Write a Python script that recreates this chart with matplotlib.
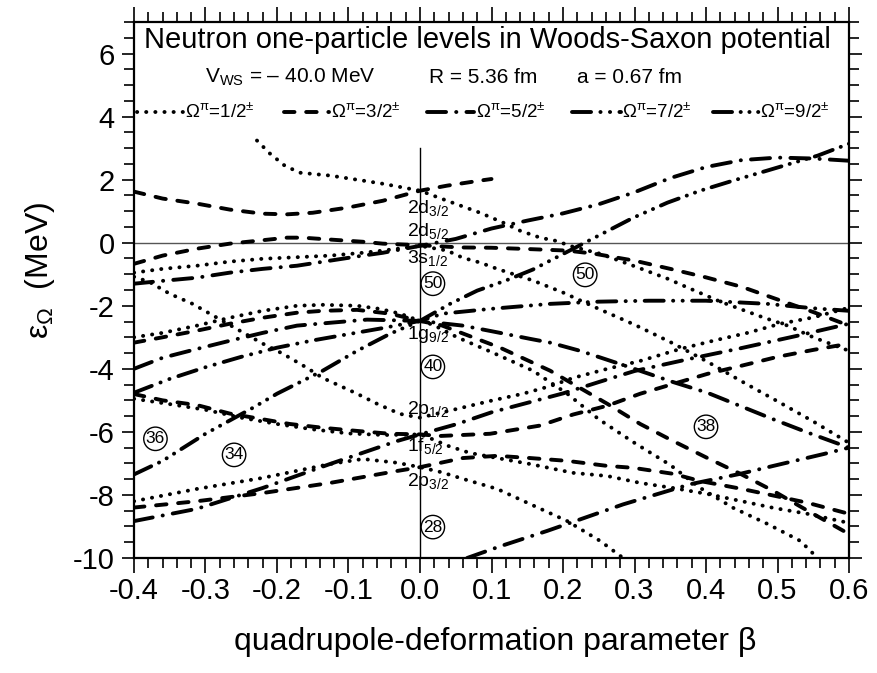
import matplotlib
matplotlib.use("Agg")
import matplotlib.pyplot as plt
from matplotlib.ticker import MultipleLocator
from matplotlib.lines import Line2D

plt.rcParams['font.family'] = 'Liberation Sans'
plt.rcParams['mathtext.fontset'] = 'custom'
plt.rcParams['mathtext.rm'] = 'Liberation Sans'
plt.rcParams['mathtext.it'] = 'Liberation Sans:italic'
plt.rcParams['axes.unicode_minus'] = False

# Nilsson-type levels: (beta, energy in MeV) per curve
omega_1_2 = [
    ([-0.228, -0.21, -0.189, -0.168, -0.126, -0.08, -0.052, 0.0, 0.038, 0.084, 0.12, 0.14, 0.168, 0.19,
      0.214, 0.252, 0.298, 0.346, 0.374, 0.42, 0.48, 0.514, 0.55, 0.6],
     [3.24, 2.83, 2.44, 2.22, 2.13, 1.97, 1.87, 1.65, 1.33, 0.95, 0.6, 0.38, 0.16, 0.06,
      -0.13, -0.35, -0.73, -1.14, -1.42, -1.87, -2.37, -2.63, -3.0, -3.43]),
    ([-0.4, -0.36, -0.312, -0.266, -0.22, -0.172, -0.126, -0.08, -0.052, 0.0, 0.038, 0.06, 0.084, 0.108,
      0.158, 0.2, 0.25, 0.3, 0.35, 0.4, 0.45, 0.5, 0.55, 0.6],
     [-0.95, -0.83, -0.73, -0.6, -0.51, -0.46, -0.41, -0.32, -0.25, -0.1, -0.25, -0.48, -0.63, -0.83,
      -1.2, -1.58, -2.1, -2.6, -3.15, -3.75, -4.4, -5.03, -5.67, -6.35]),
    ([-0.4, -0.378, -0.35, -0.318, -0.294, -0.252, -0.22, -0.192, -0.158, -0.136, -0.088, -0.06, -0.028,
      0.0, 0.052, 0.098, 0.144, 0.182, 0.214, 0.262, 0.308, 0.364, 0.41, 0.458, 0.504, 0.55, 0.6],
     [-1.08, -1.25, -1.62, -1.94, -2.25, -2.79, -3.2, -3.52, -3.97, -4.29, -4.79, -5.11, -5.43,
      -5.55, -5.27, -5.02, -4.79, -4.55, -4.29, -4.0, -3.75, -3.37, -3.11, -2.86, -2.57, -2.37, -2.06]),
    ([-0.4, -0.36, -0.312, -0.266, -0.22, -0.172, -0.136, -0.088, -0.056, -0.028, 0.0, 0.018, 0.052,
      0.098, 0.158, 0.206, 0.25, 0.3, 0.35, 0.392, 0.438, 0.486, 0.532, 0.556],
     [-3.0, -2.86, -2.63, -2.38, -2.16, -2.0, -1.97, -2.0, -2.1, -2.25, -2.48, -2.6, -3.0,
      -3.45, -4.06, -4.79, -5.6, -6.35, -7.05, -7.78, -8.41, -8.92, -9.46, -10.0]),
    ([-0.4, -0.35, -0.3, -0.25, -0.2, -0.15, -0.1, -0.05, 0.0, 0.014, 0.04, 0.07, 0.108, 0.154, 0.214,
      0.262, 0.308, 0.354, 0.402, 0.448, 0.494, 0.542, 0.6],
     [-4.95, -5.12, -5.3, -5.55, -5.75, -5.92, -6.05, -6.1, -6.08, -6.2, -6.45, -6.67, -6.83, -7.02, -7.3,
      -7.4, -7.62, -7.78, -7.97, -8.19, -8.41, -8.6, -8.89]),
    ([-0.4, -0.312, -0.22, -0.126, -0.08, -0.032, 0.0, 0.03, 0.06, 0.108, 0.154, 0.206, 0.252, 0.284],
     [-8.2, -7.81, -7.46, -7.02, -6.86, -6.98, -7.12, -7.28, -7.49, -7.81, -8.29, -8.83, -9.46, -10.0]),
]

omega_3_2 = [
    ([-0.4, -0.36, -0.312, -0.266, -0.22, -0.186, -0.15, -0.102, -0.052, 0.0, 0.038, 0.084, 0.1],
     [1.62, 1.4, 1.24, 1.05, 0.92, 0.9, 0.95, 1.11, 1.33, 1.65, 1.81, 1.97, 2.02]),
    ([-0.4, -0.36, -0.312, -0.266, -0.228, -0.186, -0.164, -0.126, -0.08, -0.052, 0.0, 0.056, 0.1, 0.15,
      0.206, 0.244, 0.3, 0.35, 0.4, 0.45, 0.5, 0.55, 0.6],
     [-0.67, -0.41, -0.19, -0.03, 0.06, 0.16, 0.16, 0.1, 0.03, -0.03, -0.08, -0.15, -0.16, -0.2,
      -0.25, -0.35, -0.57, -0.83, -1.1, -1.4, -1.8, -2.2, -2.63]),
    ([-0.4, -0.36, -0.312, -0.266, -0.22, -0.172, -0.136, -0.088, -0.042, 0.0, 0.03, 0.06, 0.112, 0.182,
      0.214, 0.262, 0.308, 0.354, 0.402, 0.448, 0.494, 0.542, 0.6],
     [-3.17, -3.0, -2.79, -2.57, -2.38, -2.22, -2.16, -2.13, -2.25, -2.48, -2.62, -2.88, -3.33, -4.06,
      -4.48, -5.11, -5.75, -6.29, -6.83, -7.33, -7.87, -8.5, -9.24]),
    ([-0.4, -0.36, -0.312, -0.266, -0.22, -0.182, -0.136, -0.088, -0.042, 0.0, 0.028, 0.098, 0.168,
      0.214, 0.262, 0.308, 0.354, 0.402, 0.45, 0.5, 0.55, 0.6],
     [-4.8, -5.0, -5.15, -5.42, -5.6, -5.75, -5.87, -5.97, -6.06, -6.08, -6.13, -6.06, -5.8,
      -5.45, -5.17, -4.79, -4.48, -4.16, -3.9, -3.62, -3.4, -3.2]),
    ([-0.4, -0.312, -0.22, -0.126, -0.032, 0.0, 0.06, 0.108, 0.154, 0.206, 0.262, 0.298, 0.354, 0.392,
      0.448, 0.486, 0.542, 0.6],
     [-8.4, -8.2, -7.94, -7.62, -7.24, -7.12, -6.83, -6.76, -6.83, -6.92, -7.08, -7.14, -7.33, -7.56,
      -7.8, -7.98, -8.25, -8.6]),
]

omega_5_2 = [
    ([-0.4, -0.36, -0.312, -0.266, -0.22, -0.172, -0.126, -0.08, -0.052, 0.0, 0.05, 0.1, 0.15, 0.2,
      0.25, 0.3, 0.35, 0.4, 0.45, 0.5, 0.55, 0.6],
     [-1.3, -1.21, -1.11, -0.95, -0.83, -0.73, -0.57, -0.41, -0.32, -0.1, 0.12, 0.45, 0.7, 0.93,
      1.22, 1.6, 2.05, 2.4, 2.62, 2.7, 2.67, 2.6]),
    ([-0.4, -0.36, -0.312, -0.266, -0.22, -0.172, -0.126, -0.074, 0.0, 0.06, 0.112, 0.154, 0.182,
      0.224, 0.284, 0.354, 0.402, 0.448, 0.494, 0.542, 0.6],
     [-4.0, -3.65, -3.37, -3.11, -2.86, -2.63, -2.54, -2.44, -2.48, -2.63, -2.86, -3.05, -3.17,
      -3.43, -3.88, -4.42, -4.76, -5.18, -5.6, -6.02, -6.5]),
    ([-0.4, -0.312, -0.22, -0.126, -0.032, 0.0, 0.052, 0.1, 0.15, 0.2, 0.25, 0.3, 0.378, 0.448, 0.528, 0.6],
     [-8.83, -8.44, -7.78, -7.02, -6.29, -6.08, -5.75, -5.38, -5.08, -4.78, -4.42, -4.07, -3.68, -3.35,
      -2.95, -2.57]),
    ([0.066, 0.112, 0.178, 0.284, 0.378, 0.448, 0.494, 0.565, 0.6],
     [-10.0, -9.63, -9.14, -8.3, -7.66, -7.33, -7.08, -6.7, -6.5]),
]

omega_7_2 = [
    ([-0.4, -0.35, -0.3, -0.25, -0.2, -0.15, -0.1, -0.05, 0.0, 0.032, 0.098, 0.182, 0.25, 0.32, 0.4,
      0.486, 0.55, 0.6],
     [-4.76, -4.32, -3.95, -3.62, -3.33, -3.1, -2.9, -2.7, -2.48, -2.25, -2.1, -1.94, -1.87, -1.84, -1.84,
      -1.94, -2.08, -2.16]),
]

omega_9_2 = [
    ([-0.4, -0.36, -0.3, -0.234, -0.2, -0.164, -0.136, -0.088, -0.042, 0.0, 0.042, 0.08, 0.12, 0.158,
      0.228, 0.298, 0.346, 0.392, 0.438, 0.486, 0.532, 0.556, 0.6],
     [-7.35, -6.92, -6.06, -5.24, -4.79, -4.38, -4.06, -3.43, -2.89, -2.48, -1.94, -1.52, -1.2, -0.85,
      -0.03, 0.79, 1.27, 1.65, 1.97, 2.29, 2.6, 2.76, 3.14]),
]

legend_labels = [r"$\mathrm{\Omega^{\pi}}$=1/2$^{\pm}$", r"$\mathrm{\Omega^{\pi}}$=3/2$^{\pm}$",
                 r"$\mathrm{\Omega^{\pi}}$=5/2$^{\pm}$", r"$\mathrm{\Omega^{\pi}}$=7/2$^{\pm}$",
                 r"$\mathrm{\Omega^{\pi}}$=9/2$^{\pm}$"]

# spherical levels at beta = 0
sph_labels = [r"2d$_{3/2}$", r"2d$_{5/2}$", r"3s$_{1/2}$", r"1g$_{9/2}$", r"2p$_{1/2}$",
              r"1f$_{5/2}$", r"2p$_{3/2}$"]
sph_label_e = [0.95, 0.22, -0.63, -3.05, -5.43, -6.6, -7.71]

# magic numbers (circled)
magic_n = ["50", "50", "40", "36", "34", "38", "28"]
magic_beta = [0.018, 0.231, 0.018, -0.37, -0.26, 0.4, 0.018]
magic_e = [-1.3, -1.02, -3.94, -6.22, -6.73, -5.84, -9.02]

xtick_vals = [-0.4, -0.3, -0.2, -0.1, 0.0, 0.1, 0.2, 0.3, 0.4, 0.5, 0.6]
xtick_labels = ["-0.4", "-0.3", "-0.2", "-0.1", "0.0", "0.1", "0.2", "0.3", "0.4", "0.5", "0.6"]
ytick_vals = [-10, -8, -6, -4, -2, 0, 2, 4, 6]
ytick_labels = ["-10", "-8", "-6", "-4", "-2", "0", "2", "4", "6"]

LW = 2.8
DOT = 0.05
styles = [
    (0, (DOT, 2.3)),
    (0, (2.7, 3.0)),
    (0, (4.9, 2.6, DOT, 2.6)),
    (0, (4.9, 2.4, DOT, 2.4, DOT, 2.4)),
    (0, (4.9, 2.2, DOT, 2.2, DOT, 2.2, DOT, 2.2)),
]

fig = plt.figure(figsize=(8.78, 6.73), dpi=100)
ax = fig.add_axes([0.1526, 0.1709, 0.8144, 0.7964])

ax.axhline(0, color="#555555", lw=1.0, zorder=1)
ax.plot([0, 0], [-10, 3], color="black", lw=1.0, zorder=1)

for group, ls in zip([omega_1_2, omega_3_2, omega_5_2, omega_7_2, omega_9_2], styles):
    for b, e in group:
        ax.plot(b, e, color="black", lw=LW, linestyle=ls, dash_capstyle="round",
                solid_capstyle="round", zorder=3)

# legend row drawn inside the frame
leg_x0 = [0.004, 0.21, 0.41, 0.613, 0.81]
leg_x1 = [0.07, 0.273, 0.476, 0.681, 0.874]
for x0, x1, ls, lab in zip(leg_x0, leg_x1, styles, legend_labels):
    ax.add_line(Line2D([x0, x1], [0.832, 0.832], transform=ax.transAxes, color="black", lw=LW,
                       linestyle=ls, dash_capstyle="round"))
    ax.text(x1 + 0.002, 0.832, lab, transform=ax.transAxes, fontsize=13.5, ha="left", va="center")

ax.text(0.495, 0.966, "Neutron one-particle levels in Woods-Saxon potential", transform=ax.transAxes,
        fontsize=21, ha="center", va="center")
ax.text(0.099, 0.897, r"V$_{\mathrm{WS}}$ = – 40.0 MeV", transform=ax.transAxes, fontsize=15,
        ha="left", va="center")
ax.text(0.413, 0.897, "R = 5.36 fm", transform=ax.transAxes, fontsize=15, ha="left", va="center")
ax.text(0.62, 0.897, "a = 0.67 fm", transform=ax.transAxes, fontsize=15, ha="left", va="center")

for lab, e in zip(sph_labels, sph_label_e):
    ax.text(-0.018, e, lab, fontsize=14, ha="left", va="baseline", zorder=4)

for n, b, e in zip(magic_n, magic_beta, magic_e):
    ax.text(b, e, n, fontsize=12.5, ha="center", va="center", zorder=4,
            bbox=dict(boxstyle="circle,pad=0.12", fc="white", ec="black", lw=1.0))

ax.set_xlim(-0.4, 0.6)
ax.set_ylim(-10, 7)
ax.set_xticks(xtick_vals)
ax.set_xticklabels(xtick_labels)
ax.set_yticks(ytick_vals)
ax.set_yticklabels(ytick_labels)
ax.xaxis.set_minor_locator(MultipleLocator(0.02))
ax.yaxis.set_minor_locator(MultipleLocator(0.5))
ax.tick_params(which="both", direction="out", top=True, right=True, width=1.2, labelsize=21)
ax.tick_params(axis="x", which="major", length=11, pad=3)
ax.tick_params(axis="x", which="minor", length=7)
ax.tick_params(axis="y", which="major", length=9, pad=5)
ax.tick_params(axis="y", which="minor", length=7)
for s in ax.spines.values():
    s.set_linewidth(1.6)

ax.set_xlabel("quadrupole-deformation parameter β", fontsize=23)
ax.set_ylabel(r"ε$_{\mathrm{\Omega}}$  (MeV)", fontsize=23)
ax.xaxis.set_label_coords(0.505, -0.128)
ax.yaxis.set_label_coords(-0.108, 0.537)

fig.savefig("out.png", dpi=100)
